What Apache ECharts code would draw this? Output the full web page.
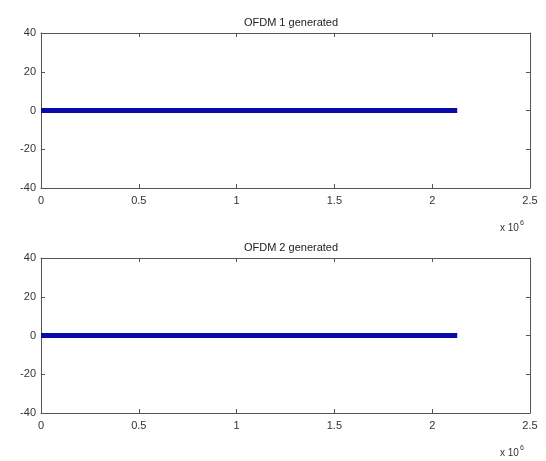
<!DOCTYPE html>
<html>
<head>
<meta charset="utf-8">
<script src="https://cdn.jsdelivr.net/npm/echarts@6/dist/echarts.min.js"></script>
<style>html,body{margin:0;padding:0;background:#fff}#c{width:546px;height:461px}</style>
</head>
<body>
<div id="c"></div>
<script>
// Data
const titles = ['OFDM 1 generated', 'OFDM 2 generated'];
const sampleIndex = [0, 2128000];
const ofdm1 = [0, 0];
const ofdm2 = [0, 0];
const xTickLabels = ['0', '0.5', '1', '1.5', '2', '2.5'];
const yTickLabels = ['-40', '-20', '0', '20', '40'];

const chart = echarts.init(document.getElementById('c'), null, {renderer: 'canvas'});
const font = 'Liberation Sans, Arial, sans-serif';
const txtColor = '#333';
const axisColor = '#555';
const grids = [
  {left: 41, right: 16, top: 33, height: 155},
  {left: 41, right: 16, top: 258, height: 155}
];
const xAxes = [], yAxes = [], series = [];
const seriesData = [ofdm1, ofdm2];
grids.forEach((g, i) => {
  const base = {
    gridIndex: i, type: 'value', min: 0, max: 2.5e6, interval: 0.5e6,
    axisLine: {show: true, onZero: false, lineStyle: {color: axisColor, width: 1}},
    axisTick: {show: true, inside: true, length: 4, lineStyle: {color: axisColor}},
    splitLine: {show: false}
  };
  xAxes.push(Object.assign({}, base, {
    position: 'bottom',
    axisLabel: {color: txtColor, fontFamily: font, fontSize: 11, margin: 7,
      formatter: v => xTickLabels[Math.round(v / 0.5e6)]}
  }));
  xAxes.push(Object.assign({}, base, {position: 'top', axisLabel: {show: false}}));
  const ybase = {
    gridIndex: i, type: 'value', min: -40, max: 40, interval: 20,
    axisLine: {show: true, onZero: false, lineStyle: {color: axisColor, width: 1}},
    axisTick: {show: true, inside: true, length: 4, lineStyle: {color: axisColor}},
    splitLine: {show: false}
  };
  yAxes.push(Object.assign({}, ybase, {
    position: 'left',
    axisLabel: {color: txtColor, fontFamily: font, fontSize: 11, margin: 5,
      formatter: v => yTickLabels[Math.round((v + 40) / 20)]}
  }));
  yAxes.push(Object.assign({}, ybase, {position: 'right', axisLabel: {show: false}}));
  series.push({
    type: 'line', xAxisIndex: i * 2, yAxisIndex: i * 2,
    data: sampleIndex.map((x, k) => [x, seriesData[i][k]]),
    showSymbol: false, symbol: 'none',
    lineStyle: {color: '#0a0aa8', width: 5, cap: 'butt'},
    animation: false
  });
});

chart.setOption({
  backgroundColor: '#fff',
  animation: false,
  title: [
    {text: titles[0], left: 286, top: 12, textAlign: 'center',
      textStyle: {fontFamily: font, fontSize: 11, fontWeight: 'normal', color: '#222'}},
    {text: titles[1], left: 286, top: 237, textAlign: 'center',
      textStyle: {fontFamily: font, fontSize: 11, fontWeight: 'normal', color: '#222'}}
  ],
  grid: grids,
  xAxis: xAxes,
  yAxis: yAxes,
  series: series,
  graphic: [
    {type: 'text', left: 500, top: 220, style: {
      text: '{a|x 10}{b|6}', rich: {
        a: {fontFamily: font, fontSize: 10, fill: txtColor, verticalAlign: 'bottom'},
        b: {fontFamily: font, fontSize: 7, fill: txtColor, verticalAlign: 'top', padding: [0, 0, 6, 1]}
      }}},
    {type: 'text', left: 500, top: 445, style: {
      text: '{a|x 10}{b|6}', rich: {
        a: {fontFamily: font, fontSize: 10, fill: txtColor, verticalAlign: 'bottom'},
        b: {fontFamily: font, fontSize: 7, fill: txtColor, verticalAlign: 'top', padding: [0, 0, 6, 1]}
      }}}
  ]
});
</script>
</body>
</html>
